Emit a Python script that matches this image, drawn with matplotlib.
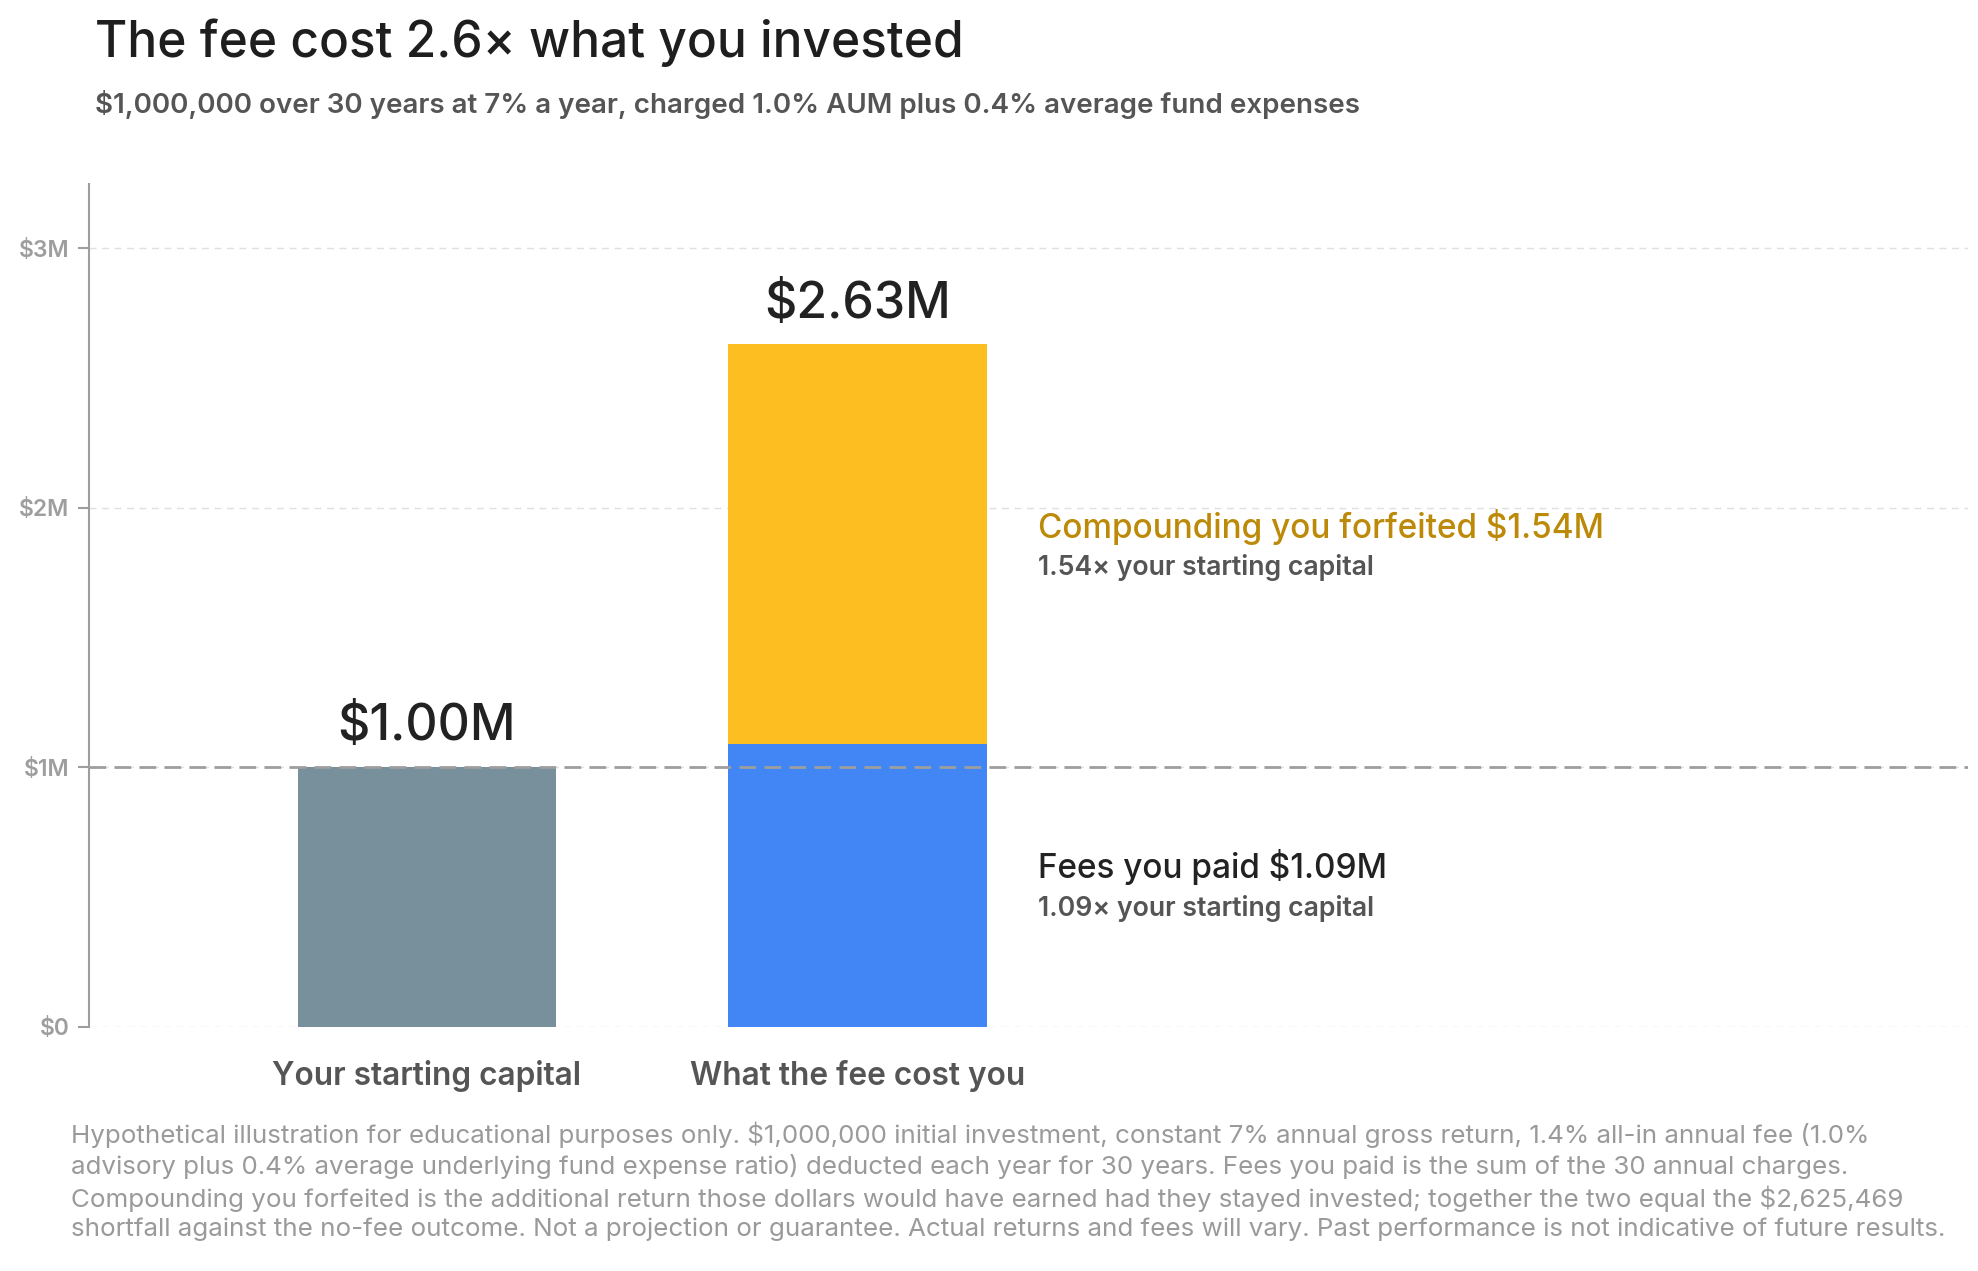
import matplotlib
matplotlib.use("Agg")
import matplotlib.pyplot as plt

plt.rcParams['font.family'] = ['Inter', 'DejaVu Sans']

# ---- data ----
categories = ["Your starting capital", "What the fee cost you"]
starting_capital = [1.00e6, 0]
fees_paid = [0, 1.09e6]
compounding_forfeited = [0, 1.54e6]
totals = [1.00e6, 2.625469e6]
total_labels = ["$1.00M", "$2.63M"]
yticks = [0, 1e6, 2e6, 3e6]
ytick_labels = ["$0", "$1M", "$2M", "$3M"]
reference_level = 1e6

title = "The fee cost 2.6\u00d7 what you invested"
subtitle = "$1,000,000 over 30 years at 7% a year, charged 1.0% AUM plus 0.4% average fund expenses"
footer = ("Hypothetical illustration for educational purposes only. $1,000,000 initial investment, constant 7% annual gross return, 1.4% all-in annual fee (1.0%\n"
          "advisory plus 0.4% average underlying fund expense ratio) deducted each year for 30 years. Fees you paid is the sum of the 30 annual charges.\n"
          "Compounding you forfeited is the additional return those dollars would have earned had they stayed invested; together the two equal the $2,625,469\n"
          "shortfall against the no-fee outcome. Not a projection or guarantee. Actual returns and fees will vary. Past performance is not indicative of future results.")

C_GREY = "#78909C"
C_BLUE = "#4285F4"
C_YELLOW = "#FDBE21"
C_GOLD = "#BC8A08"

fig = plt.figure(figsize=(19.78, 12.71), dpi=100)
ax = fig.add_axes([0.045, 0.192, 0.95, 0.663])

x = list(range(len(categories)))
w = 0.6
ax.bar(x, starting_capital, width=w, color=C_GREY, zorder=2)
ax.bar(x, fees_paid, width=w, color=C_BLUE, zorder=2)
ax.bar(x, compounding_forfeited, width=w, bottom=fees_paid, color=C_YELLOW, zorder=2)

ax.axhline(reference_level, color="#9E9E9E", lw=2.0, dashes=(6, 3), zorder=3)

for xi, t, lab in zip(x, totals, total_labels):
    ax.annotate(lab, (xi, t), xytext=(0, 20), textcoords="offset points",
                ha="center", va="baseline", fontsize=36, fontweight="medium", color="#222222")

xa = 1 + w / 2 + 0.12
ax.text(xa, 1.886e6, f"Compounding you forfeited ${compounding_forfeited[1]/1e6:.2f}M",
        fontsize=24, color=C_GOLD, fontweight="medium", va="baseline", ha="left")
ax.text(xa, 1.74e6, f"{compounding_forfeited[1]/1e6:.2f}\u00d7 your starting capital",
        fontsize=19.2, color="#555555", fontweight="semibold", va="baseline", ha="left")
ax.text(xa, 0.574e6, f"Fees you paid ${fees_paid[1]/1e6:.2f}M",
        fontsize=24, color="#222222", fontweight="medium", va="baseline", ha="left")
ax.text(xa, 0.428e6, f"{fees_paid[1]/1e6:.2f}\u00d7 your starting capital",
        fontsize=19.2, color="#555555", fontweight="semibold", va="baseline", ha="left")

ax.set_xlim(-0.785, 3.58)
ax.set_ylim(0, 3.247e6)
ax.set_yticks(yticks)
ax.set_yticklabels(ytick_labels)
ax.set_xticks(x)
ax.set_xticklabels(categories)

ax.tick_params(axis="y", colors="#9E9E9E", labelsize=16.5, length=8, width=1.5, pad=6)
for lab in ax.get_yticklabels():
    lab.set_fontweight("semibold")
ax.tick_params(axis="x", length=0, pad=24, labelsize=22.8, labelcolor="#555555")
for lab in ax.get_xticklabels():
    lab.set_fontweight("semibold")

for s in ["top", "right", "bottom"]:
    ax.spines[s].set_visible(False)
ax.spines["left"].set_color("#9E9E9E")
ax.spines["left"].set_linewidth(1.5)

ax.yaxis.grid(True, color="#E0E0E0", lw=1.0, dashes=(5, 4), zorder=0)
ax.set_axisbelow(True)

fig.text(0.048, 0.955, title, fontsize=35.7, fontweight="medium", color="#1E1E1E", va="baseline", ha="left")
fig.text(0.048, 0.911, subtitle, fontsize=20, fontweight="semibold", color="#555555", va="baseline", ha="left")
fig.text(0.036, 0.118, footer, fontsize=18.7, color="#9A9A9A", va="top", ha="left", linespacing=1.31)

fig.savefig("out.png", dpi=100, facecolor="white")
